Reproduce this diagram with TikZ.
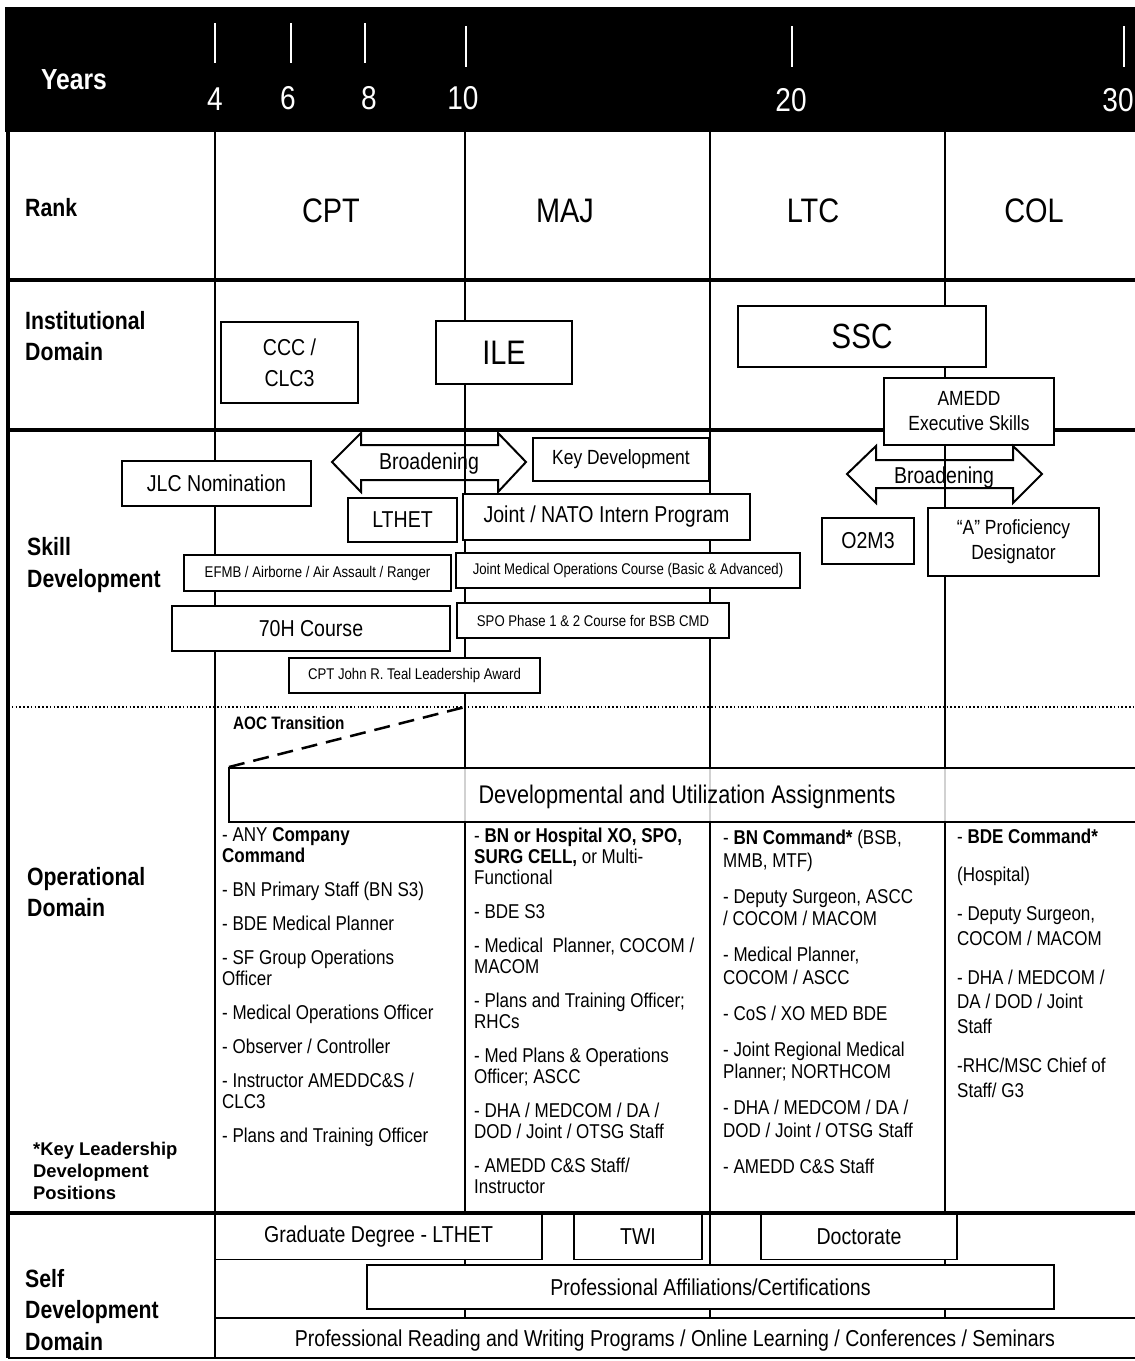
\documentclass[tikz,border=0pt]{standalone}
\usepackage{fontspec}
\setmainfont{Liberation Sans}[FakeStretch=0.85]
\newfontfamily\widefont{Liberation Sans}
\begin{document}
\begin{tikzpicture}[x=1pt,y=-1pt,
  grid/.style={line width=2pt},
  heavy/.style={line width=3.5pt},
  box/.style={draw,line width=1.5pt,fill=white,inner sep=0pt,align=center,font=\fontsize{23}{31}\selectfont},
  smallbox/.style={box,font=\fontsize{15.5}{18}\selectfont},
  midbox/.style={box,font=\fontsize{20.5}{25}\selectfont},
  dom/.style={anchor=west,align=left,inner sep=0pt,font=\bfseries\fontsize{25}{31.5}\selectfont},
  rank/.style={inner sep=0pt,font=\fontsize{34}{34}\selectfont},
  yr/.style={inner sep=0pt,text=white,font=\fontsize{33}{33}\selectfont},
  tickline/.style={draw=white,line width=2pt},
  col/.style={anchor=north west,align=left,inner sep=0pt},
  broad/.style={draw,line width=2pt,line join=miter},
  broadtxt/.style={inner sep=0pt,font=\fontsize{23}{23}\selectfont},
]
\useasboundingbox (0,0) rectangle (1135,1361);
\fill[white] (0,0) rectangle (1135,1361);

% ---------- header ----------
\fill[black] (5,7) rectangle (1140,132);
\foreach \x/\t/\b in {215/23/63,291/23/63,365/23/63,466/26/67,792/26/67,1124/26/67}
  \draw[tickline] (\x,\t) -- (\x,\b);
\node[inner sep=0pt,text=white,font=\bfseries\fontsize{29}{29}\selectfont] (years) at (74,80) {Years};
\node[yr] (y4) at (215,99) {4};
\node[yr] (y6) at (288,98) {6};
\node[yr] (y8) at (369,98) {8};
\node[yr] (y10) at (463,98) {10};
\node[yr] (y20) at (791,100) {20};
\node[yr] (y30) at (1118,100) {30};

% ---------- grid ----------
\draw[grid] (215,132) -- (215,1358);
\foreach \x in {465,710,945} \draw[grid] (\x,132) -- (\x,1318);
\draw[heavy] (8,132) -- (8,1358);
\draw[heavy] (8,280) -- (1140,280);
\draw[heavy] (8,430) -- (1140,430);
\draw[line width=1.6pt,dash pattern=on 1.6pt off 2.2pt] (8,707) -- (1140,707);
\draw[grid] (215,1318) -- (1140,1318);
\draw[grid] (8,1358) -- (1140,1358);

% ---------- rank ----------
\node[dom] (lrank) at (25,208) {Rank};
\node[rank] (cpt) at (331,211) {CPT};
\node[rank] (maj) at (565,211) {MAJ};
\node[rank] (ltc) at (813,211) {LTC};
\node[rank] (col) at (1034,211) {COL};

% ---------- institutional ----------
\node[dom] (linst) at (25,336) {Institutional\\Domain};
\node[box,minimum width=137pt,minimum height=81pt] (ccc) at (289.5,362.5) {CCC /\\CLC3};
\node[box,minimum width=136pt,minimum height=63pt,font=\fontsize{34}{34}\selectfont] (ile) at (504,352.5) {ILE};
\node[box,minimum width=248pt,minimum height=61pt,font=\fontsize{35}{35}\selectfont] (ssc) at (862,336.5) {SSC};
\node[midbox,minimum width=170pt,minimum height=67pt] (amedd) at (969,411.5) {AMEDD\\Executive Skills};

% ---------- skill development ----------
\node[dom] (lskill) at (27,565) {Skill\\Development};
\node[box,minimum width=189pt,minimum height=45pt] (jlc) at (216.5,483.5) {JLC Nomination};
\node[box,minimum width=109pt,minimum height=44pt] (lthet) at (402.5,520) {LTHET};
\node[box,minimum width=287pt,minimum height=46pt] (nato) at (606.5,517) {Joint / NATO Intern Program};
\node[midbox,minimum width=176pt,minimum height=43pt] (keydev) at (621,459.5) {Key Development};
\node[smallbox,minimum width=267pt,minimum height=36pt] (efmb) at (317.5,573) {EFMB / Airborne / Air Assault / Ranger};
\node[smallbox,minimum width=344pt,minimum height=35pt] (jmo) at (628,570.5) {Joint Medical Operations Course (Basic \& Advanced)};
\node[box,minimum width=278pt,minimum height=45pt] (c70h) at (311,628.5) {70H Course};
\node[smallbox,minimum width=272pt,minimum height=35pt] (spo) at (593,620.5) {SPO Phase 1 \& 2 Course for BSB CMD};
\node[smallbox,minimum width=251pt,minimum height=35pt] (teal) at (414.5,675.5) {CPT John R. Teal Leadership Award};
\node[box,minimum width=92pt,minimum height=46pt] (o2m3) at (868,541) {O2M3};
\node[midbox,minimum width=171pt,minimum height=68pt] (aprof) at (1013.5,542) {“A” Proficiency\\Designator};

\draw[broad] (332,462) -- (361,433) -- (361,445) -- (498,445) -- (498,433) -- (526,462)
  -- (498,492) -- (498,480) -- (361,480) -- (361,492) -- cycle;
\node[broadtxt] (broad1) at (429,464) {Broadening};
\draw[broad] (847,474) -- (876,446) -- (876,460) -- (1013,460) -- (1013,446) -- (1042,474)
  -- (1013,503) -- (1013,488) -- (876,488) -- (876,503) -- cycle;
\node[broadtxt] (broad2) at (944,478) {Broadening};

% ---------- operational ----------
\node[dom] (lop) at (27,892) {Operational\\Domain};
\node[anchor=west,align=left,inner sep=0pt,font=\widefont\bfseries\fontsize{18.4}{22}\selectfont] (lkey) at (33,1171) {*Key Leadership\\Development\\Positions};
\node[anchor=west,inner sep=0pt,font=\bfseries\fontsize{18}{18}\selectfont] (aoc) at (233,723) {AOC Transition};
\coordinate (aocstart) at (229,767);
\coordinate (aocend) at (465,707);
\draw[line width=2.5pt,dash pattern=on 16pt off 9pt] (aocstart) -- (aocend);
\draw[line width=2.5pt,fill=white,fill opacity=0.82] (229,768) rectangle (1145,822);
\node[inner sep=0pt,font=\fontsize{25.5}{25.5}\selectfont] (devutil) at (687,797) {Developmental and Utilization Assignments};

\node[col,font=\fontsize{20}{21}\selectfont] (c1) at (222,827) {%
- ANY \textbf{Company}\\\textbf{Command}\\[13pt]
- BN Primary Staff (BN S3)\\[13pt]
- BDE Medical Planner\\[13pt]
- SF Group Operations\\Officer\\[13pt]
- Medical Operations Officer\\[13pt]
- Observer / Controller\\[13pt]
- Instructor AMEDDC\&S /\\CLC3\\[13pt]
- Plans and Training Officer};

\node[col,font=\fontsize{20}{21}\selectfont] (c2) at (474,828) {%
- \textbf{BN or Hospital XO, SPO,}\\\textbf{SURG CELL,} or Multi-\\Functional\\[13pt]
- BDE S3\\[13pt]
- Medical\ \ Planner, COCOM /\\MACOM\\[13pt]
- Plans and Training Officer;\\RHCs\\[13pt]
- Med Plans \& Operations\\Officer; ASCC\\[13pt]
- DHA / MEDCOM / DA /\\DOD / Joint / OTSG Staff\\[13pt]
- AMEDD C\&S Staff/\\Instructor};

\node[col,font=\fontsize{20}{22.5}\selectfont] (c3) at (723,830) {%
- \textbf{BN Command*} (BSB,\\MMB, MTF)\\[13.5pt]
- Deputy Surgeon, ASCC\\/ COCOM / MACOM\\[13.5pt]
- Medical Planner,\\COCOM / ASCC\\[13.5pt]
- CoS / XO MED BDE\\[13.5pt]
- Joint Regional Medical\\Planner; NORTHCOM\\[13.5pt]
- DHA / MEDCOM / DA /\\DOD / Joint / OTSG Staff\\[13.5pt]
- AMEDD C\&S Staff};

\node[col,font=\fontsize{20}{24.5}\selectfont] (c4) at (957,829) {%
- \textbf{BDE Command*}\\[13.5pt]
(Hospital)\\[14.5pt]
- Deputy Surgeon,\\COCOM / MACOM\\[14.5pt]
- DHA / MEDCOM /\\DA / DOD / Joint\\Staff\\[15pt]
-RHC/MSC Chief of\\Staff/ G3};

% ---------- self development ----------
\node[dom] (lself) at (25,1310) {Self\\Development\\Domain};
\node[box,minimum width=327pt,minimum height=45pt] (grad) at (378.5,1237) {Graduate Degree - LTHET};
\node[box,minimum width=128pt,minimum height=45pt] (twi) at (638,1237) {TWI};
\node[box,minimum width=196pt,minimum height=45pt] (doct) at (859,1237) {Doctorate};
\node[box,minimum width=687pt,minimum height=44pt] (paff) at (710.5,1287) {Professional Affiliations/Certifications};
\node[inner sep=0pt,font=\fontsize{23}{23}\selectfont] (pread) at (675,1341) {Professional Reading and Writing Programs / Online Learning / Conferences / Seminars};
\draw[heavy] (8,1213) -- (1140,1213);
\end{tikzpicture}
\end{document}
